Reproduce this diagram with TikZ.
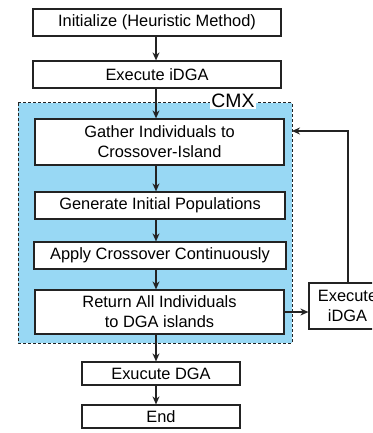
\documentclass[tikz,border=0pt]{standalone}
\usepackage{fontspec}
\setmainfont{Liberation Sans}
\usetikzlibrary{arrows.meta}
\definecolor{cmxblue}{RGB}{152,216,244}
\definecolor{ink}{RGB}{35,35,35}
\tikzset{
  stepbox/.style={draw=ink, line width=1.2pt, fill=white, inner sep=0pt,
    align=center, font=\fontsize{16.4}{20}\selectfont},
  flow/.style={draw=ink, line width=1.3pt, -{Stealth[length=8pt,width=7pt]}},
  plainline/.style={draw=ink, line width=1.2pt},
}
\begin{document}
\begin{tikzpicture}[x=1pt,y=-1pt]
\useasboundingbox (0,0) rectangle (372,433);
\clip (0,0) rectangle (372,433);
\fill[white] (0,0) rectangle (372,433);

% CMX region
\path[fill=cmxblue, draw=ink, line width=1pt, dash pattern=on 3pt off 2pt]
  (18,103) rectangle (292,343);
\node[fill=white, inner sep=1pt, font=\fontsize{19.4}{20}\selectfont]
  (cmx) at (233,101) {CMX};

% main column axis
\coordinate (axis) at (156,0);

\node[stepbox, minimum width=248pt, minimum height=27pt] (init) at (157,22.5) {Initialize (Heuristic Method)};
\node[stepbox, minimum width=248pt, minimum height=27pt] (exec) at (157,74.5) {Execute iDGA};
\node[stepbox, minimum width=249pt, minimum height=46pt] (gather) at (159.5,142) {Gather Individuals to\\Crossover-Island};
\node[stepbox, minimum width=250pt, minimum height=27pt] (gen) at (160,205.5) {Generate Initial Populations};
\node[stepbox, minimum width=252pt, minimum height=27pt] (apply) at (160,255.5) {Apply Crossover Continuously};
\node[stepbox, minimum width=249pt, minimum height=44pt] (ret) at (159.5,312) {Return All Individuals\\to DGA islands};
\node[stepbox, minimum width=158pt, minimum height=23pt] (dga) at (161,373.5) {Exucute DGA};
\node[stepbox, minimum width=158pt, minimum height=23pt] (fin) at (161,416.5) {End};
\node[stepbox, minimum width=77pt, minimum height=46pt] (side) at (347.5,306) {Execute\\iDGA};

% vertical flow
\draw[flow] (init.south -| axis) -- (exec.north -| axis);
\draw[flow] (exec.south -| axis) -- (gather.north -| axis);
\draw[flow] (gather.south -| axis) -- (gen.north -| axis);
\draw[flow] (gen.south -| axis) -- (apply.north -| axis);
\draw[flow] (apply.south -| axis) -- (ret.north -| axis);
\draw[flow] (ret.south -| axis) -- (dga.north -| axis);
\draw[flow] (dga.south -| axis) -- (fin.north -| axis);

% loop back to the CMX region
\coordinate (back) at (292,131);
\coordinate (turn) at (348,131);
\draw[flow] (ret.east) -- (ret.east -| side.west);
\draw[flow] (side.north -| turn) -- (turn) -- (back);
\end{tikzpicture}
\end{document}
